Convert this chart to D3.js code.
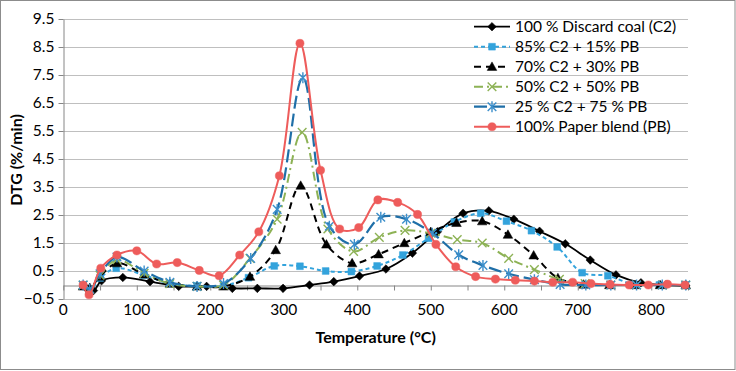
<!doctype html>
<html>
<head>
<meta charset="UTF-8">
<title>DTG</title>
<script src="https://cdnjs.cloudflare.com/ajax/libs/d3/7.8.5/d3.min.js"></script>
<style>
  body { margin:0; background:#fff; }
  text { font-family: Lato, "Open Sans", sans-serif; fill:#000; }
</style>
</head>
<body>
<script>
// temperatures (°C) and DTG values (%/min) for each sample
var c2T  = [29,41,52,81,118,157,195,230,264,299,335,368,403,439,475,509,544,579,613,648,683,717,752,786,820,847];
var c2V  = [-0.05,-0.2,0.15,0.27,0.12,-0.05,-0.05,-0.12,-0.12,-0.12,0.0,0.12,0.32,0.57,1.14,1.9,2.56,2.65,2.35,1.92,1.47,0.89,0.36,0.08,0.0,-0.02];

var b85T = [27,36,50,72,110,145,182,218,252,287,322,357,392,427,462,497,532,568,603,637,672,706,741,776,811,846];
var b85V = [0.0,-0.2,0.25,0.6,0.35,0.05,-0.03,-0.03,0.26,0.68,0.67,0.5,0.48,0.68,1.07,1.67,2.25,2.56,2.28,1.94,1.36,0.44,0.33,0.02,0.0,0.0];

var b70T = [27,36,50,73,110,145,182,218,254,289,323,358,393,429,464,500,535,570,605,640,673,708,743,778,812,847];
var b70V = [-0.05,-0.1,0.3,0.78,0.38,0.05,-0.05,-0.05,0.3,1.25,3.55,1.45,0.78,1.1,1.5,1.9,2.22,2.28,1.8,1.06,0.25,0.02,0,0,0,0];

var b50T = [27,36,50,73,110,145,182,218,254,291,325,360,395,430,465,500,536,570,606,641,675,710,745,780,815,847];
var b50V = [0,-0.15,0.35,0.9,0.42,0.05,-0.05,0.0,0.95,2.35,5.45,2.0,1.2,1.7,1.95,1.85,1.62,1.5,0.95,0.55,0.2,0.05,0,0,0,0];

var b25T = [27,36,50,73,110,145,182,218,255,291,326,362,396,432,467,502,538,571,606,641,676,711,745,780,815,847];
var b25V = [0,-0.15,0.4,1.0,0.5,0.1,-0.05,0.05,0.95,2.7,7.4,2.1,1.45,2.42,2.35,1.85,1.08,0.7,0.4,0.19,0.02,0,0,0,0,0];

var pbT  = [27,35,51,73,100,127,155,185,212,240,266,294,322,350,376,402,428,455,482,507,534,561,588,615,641,666,693,718,744,770,796,822,846];
var pbV  = [0.0,-0.35,0.6,1.07,1.22,0.75,0.8,0.52,0.33,1.07,1.9,3.9,8.63,4.1,2.0,2.05,3.04,2.95,2.52,1.45,0.65,0.3,0.21,0.17,0.14,0.1,0.1,0.05,0.02,0.0,0.0,0.03,0.0];

var names = ["100 % Discard coal (C2)", "85% C2 + 15% PB", "70% C2 + 30% PB",
             "50% C2 + 50% PB", "25 % C2 + 75 % PB", "100% Paper blend (PB)"];
var yTicks = [-0.5,0.5,1.5,2.5,3.5,4.5,5.5,6.5,7.5,8.5,9.5];
var xTicks = [0,100,200,300,400,500,600,700,800];

var W = 736, H = 371;
var pL = 63.3, pR = 688, pT = 19, pB = 299;

var series = [
  {name:names[0], t:c2T,  v:c2V,  color:"#000000", dash:null,      width:1.8, marker:"diamond",  mfill:"#000000"},
  {name:names[1], t:b85T, v:b85V, color:"#33A3DC", dash:"4,3",     width:2,   marker:"square",   mfill:"#33A3DC"},
  {name:names[2], t:b70T, v:b70V, color:"#000000", dash:"7,5",     width:2,   marker:"triangle", mfill:"#000000"},
  {name:names[3], t:b50T, v:b50V, color:"#8DB255", dash:"9,4,2,4", width:2,   marker:"x",        mfill:"#8DB255"},
  {name:names[4], t:b25T, v:b25V, color:"#1F6FA8", dash:"13,5",    width:2.2, marker:"star",     mfill:"#3C8FCB"},
  {name:names[5], t:pbT,  v:pbV,  color:"#EE5C5B", dash:null,      width:2,   marker:"circle",   mfill:"#EE5C5B"}
];

var x = d3.scaleLinear().domain([0,850]).range([pL,pR]);
var y = d3.scaleLinear().domain([-0.5,9.5]).range([pB,pT]);

var svg = d3.select("body").append("svg").attr("width",W).attr("height",H);

svg.append("rect").attr("x",0.5).attr("y",0.5).attr("width",W-1.5).attr("height",H-2)
  .attr("fill","#fff").attr("stroke","#8C8C8C").attr("stroke-width",1);

// grid
svg.append("g").selectAll("line").data(yTicks).enter().append("line")
  .attr("x1",pL).attr("x2",pR)
  .attr("y1",function(d){return Math.round(y(d))+0.5;})
  .attr("y2",function(d){return Math.round(y(d))+0.5;})
  .attr("stroke","#BFBFBF").attr("stroke-width",1);

// y axis
var yAxis = d3.axisLeft(y).tickValues(yTicks).tickFormat(d3.format(".1f")).tickSize(5).tickSizeOuter(0);
var gy = svg.append("g").attr("transform","translate("+(Math.round(pL)+0.5)+",0)").call(yAxis);
gy.select(".domain").attr("stroke","#868686");
gy.selectAll(".tick line").attr("stroke","#868686");
gy.selectAll("text").attr("font-size",15.5).attr("font-family","Lato, sans-serif").attr("dx",-1);

// x axis line at 0, labels low
var y0 = Math.round(y(0))+0.5;
var xAxis = d3.axisBottom(x).tickValues(d3.range(0,851,50)).tickFormat("").tickSize(5).tickSizeOuter(0);
var gx = svg.append("g").attr("transform","translate(0,"+y0+")").call(xAxis);
gx.select(".domain").attr("stroke","#868686");
gx.selectAll(".tick line").attr("stroke","#868686");

svg.append("g").selectAll("text").data(xTicks).enter().append("text")
  .attr("x",function(d){return x(d);}).attr("y",pB+16)
  .attr("text-anchor","middle").attr("font-size",15.5)
  .text(function(d){return d;});

// titles
svg.append("text").attr("x",(pL+pR)/2).attr("y",343).attr("text-anchor","middle")
  .attr("font-size",16).attr("font-weight","bold").text("Temperature (°C)");
svg.append("text").attr("transform","translate(22,160) rotate(-90)").attr("text-anchor","middle")
  .attr("font-size",16).attr("font-weight","bold").text("DTG (%/min)");

function markerPath(type){
  switch(type){
    case "diamond": return "M0,-4.3L4.3,0L0,4.3L-4.3,0Z";
    case "square": return "M-3.4,-3.4H3.4V3.4H-3.4Z";
    case "triangle": return "M0,-4.8L4.8,3.7L-4.8,3.7Z";
    case "x": return "M-4.3,-4.3L4.3,4.3M-4.3,4.3L4.3,-4.3";
    case "star": return "M-4.3,-4.3L4.3,4.3M-4.3,4.3L4.3,-4.3M0,-5.5V5.5";
    case "circle": return d3.symbol(d3.symbolCircle,52)();
  }
}

var line = d3.line().x(function(d){return x(d[0]);}).y(function(d){return y(d[1]);})
  .curve(d3.curveCatmullRom.alpha(0.5));

function drawMarker(g, s, px, py){
  var p = g.append("path").attr("d",markerPath(s.marker))
    .attr("transform","translate("+px+","+py+")");
  if(s.marker==="x"||s.marker==="star"){
    p.attr("fill","none").attr("stroke",s.mfill).attr("stroke-width",1.4);
  } else {
    p.attr("fill",s.mfill).attr("stroke",s.mfill).attr("stroke-width",0.5);
  }
}

var plot = svg.append("g");
series.forEach(function(s){
  var pts = s.t.map(function(t,i){return [t,s.v[i]];});
  plot.append("path").datum(pts).attr("d",line)
    .attr("fill","none").attr("stroke",s.color).attr("stroke-width",s.width)
    .attr("stroke-dasharray",s.dash);
  var mg = plot.append("g");
  pts.forEach(function(p){ drawMarker(mg, s, x(p[0]), y(p[1])); });
});

// legend
var leg = svg.append("g");
series.forEach(function(s,i){
  var cy = 26.7 + i*20;
  leg.append("line").attr("x1",474).attr("x2",510).attr("y1",cy).attr("y2",cy)
    .attr("stroke",s.color).attr("stroke-width",s.width).attr("stroke-dasharray",s.dash);
  drawMarker(leg, s, 492, cy);
  leg.append("text").attr("x",515).attr("y",cy+5.5).attr("font-size",15.5).text(s.name);
});
</script>
</body>
</html>
